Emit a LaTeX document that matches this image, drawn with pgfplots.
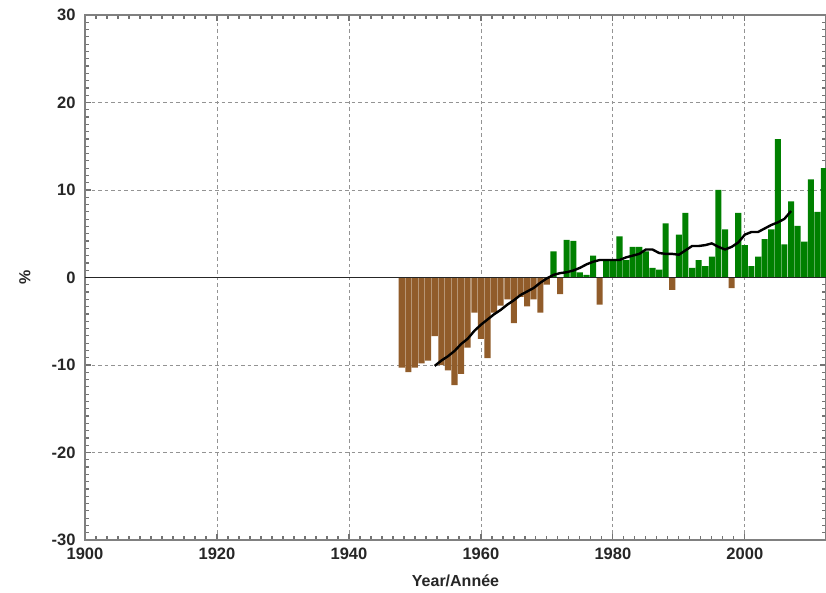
\documentclass[border=0pt]{standalone}
\usepackage{pgfplots}
\pgfplotsset{compat=1.18}
\usepackage{pgfplotstable}
\usepackage{fontspec}
\setmainfont{Liberation Sans}
\usetikzlibrary{calc}

\definecolor{drybrown}{RGB}{145,92,42}
\definecolor{wetgreen}{RGB}{0,128,0}
\definecolor{framegray}{RGB}{128,128,128}

% Annual departures below the reference (%)
\pgfplotstableread{
year val
1948 -10.3
1949 -10.8
1950 -10.3
1951 -9.8
1952 -9.5
1953 -6.7
1954 -10.0
1955 -10.6
1956 -12.3
1957 -11.0
1958 -8.0
1959 -4.0
1960 -7.0
1961 -9.2
1962 -4.0
1963 -3.2
1964 -2.5
1965 -5.2
1966 -2.2
1967 -3.3
1968 -2.5
1969 -4.0
1970 -0.8
1972 -1.9
1978 -3.1
1989 -1.4
1998 -1.2
}\drytable

% Annual departures above the reference (%)
\pgfplotstableread{
year val
1971 3.0
1973 4.3
1974 4.2
1975 0.6
1976 0.3
1977 2.5
1979 2.1
1980 2.0
1981 4.7
1982 2.0
1983 3.5
1984 3.5
1985 3.0
1986 1.1
1987 0.9
1988 6.2
1990 4.9
1991 7.4
1992 1.1
1993 2.0
1994 1.3
1995 2.4
1996 10.0
1997 5.5
1999 7.4
2000 3.7
2001 1.3
2002 2.4
2003 4.4
2004 5.5
2005 15.8
2006 3.8
2007 8.7
2008 5.9
2009 4.1
2010 11.2
2011 7.5
2012 12.5
}\wettable

% Smoothed trend (%)
\pgfplotstableread{
year val
1953 -10.1
1954 -9.5
1955 -9.0
1956 -8.4
1957 -7.6
1958 -7.0
1959 -6.1
1960 -5.4
1961 -4.8
1962 -4.2
1963 -3.7
1964 -3.1
1965 -2.6
1966 -2.0
1967 -1.6
1968 -1.2
1969 -0.6
1970 -0.1
1971 0.3
1972 0.5
1973 0.6
1974 0.8
1975 1.1
1976 1.5
1977 1.8
1978 2.0
1979 2.0
1980 2.0
1981 2.0
1982 2.3
1983 2.5
1984 2.7
1985 3.2
1986 3.2
1987 2.8
1988 2.7
1989 2.7
1990 2.6
1991 3.1
1992 3.6
1993 3.6
1994 3.7
1995 3.9
1996 3.5
1997 3.2
1998 3.5
1999 4.0
2000 4.9
2001 5.2
2002 5.2
2003 5.6
2004 6.0
2005 6.3
2006 6.7
2007 7.6
}\trendtable

\begin{document}
\begin{tikzpicture}
\begin{axis}[
  scale only axis,
  width=741pt, height=525pt,
  xmin=1900, xmax=2012.3,
  ymin=-30, ymax=30,
  xtick={1900,1920,...,2000},
  ytick={-30,-20,...,30},
  minor x tick num=11,
  minor y tick num=11,
  tick align=inside,
  grid=major,
  major grid style={framegray!85, line width=0.8pt, dash pattern=on 3.5pt off 3pt},
  axis line style={framegray, line width=1.8pt},
  tick style={black!55, line width=1.2pt},
  major tick length=6pt,
  minor tick length=4.5pt,
  tick label style={font=\bfseries\fontsize{16.5}{16.5}\selectfont, text=black!85},
  /pgf/number format/assume math mode=true,
  /pgf/number format/1000 sep={},
  xticklabel style={yshift=-4pt},
  yticklabel style={xshift=-6pt},
  xlabel={\bfseries Year/Année},
  xlabel style={font=\fontsize{16}{16}\selectfont, text=black!85, at={(axis description cs:0.5,-0.078)}, anchor=center},
  ylabel={\bfseries \%},
  ylabel style={font=\fontsize{16}{16}\selectfont, text=black!85, at={(axis description cs:-0.081,0.5)}, anchor=center, rotate=0},
]
\addplot[ybar, bar width=0.92, bar shift=0pt, fill=drybrown, draw=none] table[x=year, y=val] {\drytable};
\addplot[ybar, bar width=0.92, bar shift=0pt, fill=wetgreen, draw=none] table[x=year, y=val] {\wettable};
\addplot[black!85, line width=1.1pt] coordinates {(1900,0) (2012.3,0)};
\addplot[black, line width=2.4pt, line join=round] table[x=year, y=val] {\trendtable};
\end{axis}
\pgfresetboundingbox
\path ($(current axis.south west)+(-85pt,-52pt)$) rectangle ($(current axis.north east)+(0pt,15pt)$);
\end{tikzpicture}
\end{document}
